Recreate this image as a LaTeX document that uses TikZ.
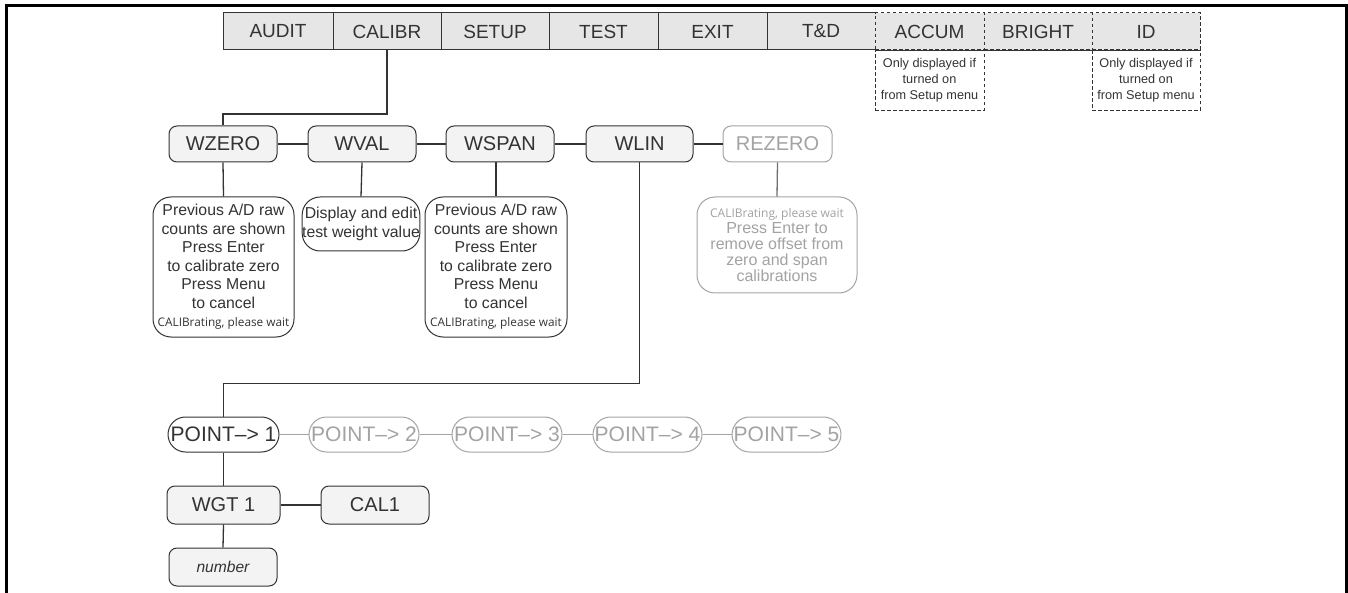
\documentclass[tikz,border=0pt]{standalone}
\usepackage{fontspec}
\setmainfont{Liberation Sans}
\newfontfamily\calfont{Open Sans}
\usetikzlibrary{shapes.misc}
\definecolor{ink}{HTML}{333333}
\definecolor{lite}{HTML}{A3A3A3}
\definecolor{barfill}{HTML}{E6E6E6}
\definecolor{boxfill}{HTML}{F3F3F3}
\begin{document}
\begin{tikzpicture}[x=1pt,y=-1pt,
  topbox/.style={draw=ink, line width=1pt, fill=barfill, minimum height=37pt, inner sep=0pt, text=ink, font=\fontsize{19}{22}\selectfont},
  optbox/.style={topbox, dash pattern=on 3.5pt off 2.5pt},
  optnote/.style={draw=ink, line width=1pt, dash pattern=on 3.5pt off 2.5pt, minimum width=108pt, minimum height=60pt, inner sep=0pt, align=center, text=ink, font=\fontsize{12.7}{16}\selectfont},
  menubox/.style={draw=ink, line width=1pt, fill=boxfill, rounded corners=8pt, minimum height=36pt, inner sep=0pt, text=ink, font=\fontsize{20}{22}\selectfont},
  note/.style={draw=ink, line width=1pt, fill=white, rounded corners=18pt, inner sep=0pt, align=center, text=ink, font=\fontsize{15.8}{18.5}\selectfont},
  pointbox/.style={rounded rectangle, draw=ink, line width=1pt, fill=white, minimum height=35pt, inner sep=0pt, text=ink, font=\fontsize{21}{22}\selectfont},
  dim/.style={draw=lite, text=lite, fill=white},
  link/.style={draw=ink, line width=1.3pt},
  dimlink/.style={draw=lite, line width=1.3pt}
]
\useasboundingbox (0,0) rectangle (1348,593);
\draw[line width=3pt] (6,593) -- (6,6) -- (1346.5,6) -- (1346.5,593);

% top menu bar
\node[topbox, minimum width=110pt] (audit) at (278,31.5) {AUDIT};
\node[topbox, minimum width=108pt] (calibr) at (387,31.5) {CALIBR};
\node[topbox, minimum width=108pt] (setup) at (495,31.5) {SETUP};
\node[topbox, minimum width=109pt] (test) at (603.5,31.5) {TEST};
\node[topbox, minimum width=109pt] (exit) at (712.5,31.5) {EXIT};
\node[topbox, minimum width=108pt] (td) at (821,31.5) {T\&D};
\node[optbox, minimum width=109pt] (accum) at (929.5,31.5) {ACCUM};
\node[optbox, minimum width=108pt] (bright) at (1038,31.5) {BRIGHT};
\node[optbox, minimum width=108pt] (id) at (1146,31.5) {ID};
\draw[draw=ink, line width=1pt] (accum.south west) -- (id.south east);

\node[optnote, minimum width=109pt] (accnote) at (929.5,80.5) {Only displayed if\\turned on\\from Setup menu};
\node[optnote] (idnote) at (1146,80.5) {Only displayed if\\turned on\\from Setup menu};

% calibration row
\node[menubox, minimum width=108pt] (wzero) at (223,144) {WZERO};
\node[menubox, minimum width=108pt] (wval) at (362,144) {WVAL};
\node[menubox, minimum width=108pt] (wspan) at (500,144) {WSPAN};
\node[menubox, minimum width=107pt] (wlin) at (639.5,144) {WLIN};
\node[menubox, dim, minimum width=109pt] (rezero) at (777.5,144) {REZERO};

\draw[link] (calibr.south) -- ++(0,63.5) -| (wzero.north);
\draw[link] (wzero.east) -- (wval.west);
\draw[link] (wval.east) -- (wspan.west);
\draw[link] (wspan.east) -- (wlin.west);
\draw[link] (wlin.east) -- (rezero.west);

% notes
\node[note, minimum width=141pt, minimum height=140pt] (n1) at (223.5,267) {Previous A/D raw\\counts are shown\\Press Enter\\to calibrate zero\\Press Menu\\to cancel\\{\calfont\fontsize{11.8}{15}\selectfont CALIBrating, please wait}};
\node[note, minimum width=116pt, minimum height=54pt] (n2) at (361,224) {Display and edit\\test weight value};
\node[note, minimum width=142pt, minimum height=140pt] (n3) at (496,267) {Previous A/D raw\\counts are shown\\Press Enter\\to calibrate zero\\Press Menu\\to cancel\\{\calfont\fontsize{11.8}{15}\selectfont CALIBrating, please wait}};
\node[note, dim, minimum width=160pt, minimum height=96pt, font=\fontsize{16}{16.2}\selectfont] (n4) at (777,245) {{\calfont\fontsize{12}{15}\selectfont CALIBrating, please wait}\\Press Enter to\\remove offset from\\zero and span\\calibrations};

\draw[link] (wzero.south) -- (n1.north);
\draw[link] (wval.south) -- (n2.north);
\draw[link] (wspan.south -| n3.north) -- (n3.north);
\draw[draw=ink!70, line width=1.3pt] (rezero.south) -- (n4.north);

% linearization points
\node[pointbox, minimum width=111pt] (p1) at (223.5,434.5) {POINT–> 1};
\node[pointbox, dim, minimum width=110pt] (p2) at (364,434.5) {POINT–> 2};
\node[pointbox, dim, minimum width=110pt] (p3) at (507,434.5) {POINT–> 3};
\node[pointbox, dim, minimum width=109pt] (p4) at (647.5,434.5) {POINT–> 4};
\node[pointbox, dim, minimum width=107pt] (p5) at (786.5,434.5) {POINT–> 5};

\draw[link] (wlin.south) -- ++(0,221) -| (p1.north);
\draw[dimlink] (p1.east) -- (p2.west);
\draw[dimlink] (p2.east) -- (p3.west);
\draw[dimlink] (p3.east) -- (p4.west);
\draw[dimlink] (p4.east) -- (p5.west);

\node[menubox, minimum width=113pt, minimum height=38pt] (wgt) at (223.5,505) {WGT 1};
\node[menubox, minimum width=108pt, minimum height=38pt] (cal1) at (375,505) {CAL1};
\node[menubox, minimum width=108pt, minimum height=38pt, font=\itshape\fontsize{15.6}{18}\selectfont] (num) at (223,567) {number};

\draw[link] (p1.south) -- (wgt.north);
\draw[link] (wgt.east) -- (cal1.west);
\draw[link] (wgt.south) -- (num.north);
\end{tikzpicture}
\end{document}
